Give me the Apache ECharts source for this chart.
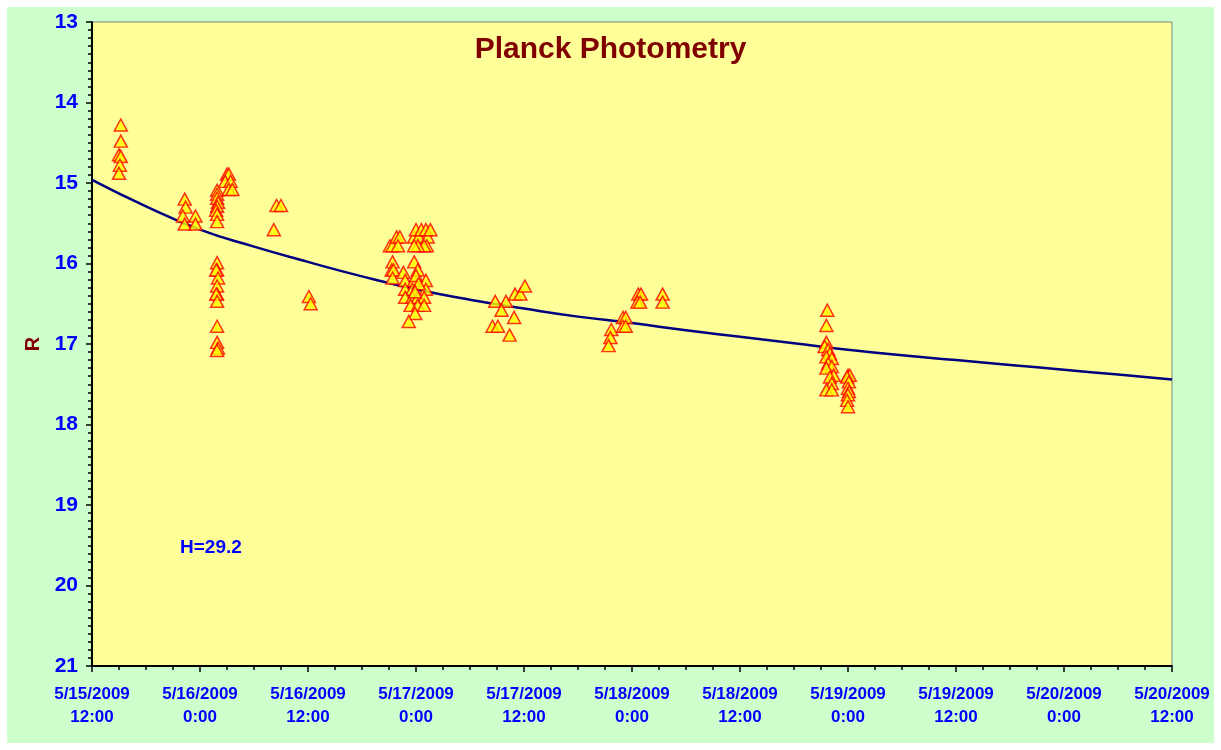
<!DOCTYPE html>
<html>
<head>
<meta charset="utf-8">
<script src="https://cdn.jsdelivr.net/npm/echarts@6/dist/echarts.min.js"></script>
<style>
  html, body { margin: 0; padding: 0; background: #ffffff; }
  #chart { position: absolute; left: 7px; top: 7px; width: 1207px; height: 736px; }
</style>
</head>
<body>
<div id="chart"></div>
<script>
// Hours since 5/15/2009 12:00
const xTickLabels = [
  '5/15/2009\n12:00', '5/16/2009\n0:00', '5/16/2009\n12:00', '5/17/2009\n0:00',
  '5/17/2009\n12:00', '5/18/2009\n0:00', '5/18/2009\n12:00', '5/19/2009\n0:00',
  '5/19/2009\n12:00', '5/20/2009\n0:00', '5/20/2009\n12:00'
];

// Observations: [hours since 5/15/2009 12:00, R magnitude]
const obsGroupA = [[3.2,14.28],[3.2,14.48],[3.0,14.65],[3.2,14.67],[3.1,14.78],[3.0,14.88]];
const obsGroupB = [[10.3,15.20],[10.4,15.30],[10.1,15.41],[10.3,15.51],[11.5,15.41],[11.5,15.51]];
const obsGroupC = [
  [13.9,15.09],[13.9,15.14],[13.9,15.19],[14.0,15.24],[13.9,15.29],[13.8,15.34],[13.9,15.39],[13.9,15.48],
  [13.9,15.99],[13.9,16.08],[13.8,16.08],[14.0,16.18],[13.9,16.28],[13.9,16.38],[13.8,16.38],[13.9,16.47],
  [13.9,16.78],[13.9,16.98],[14.0,17.05],[13.9,17.08],
  [15.0,14.89],[15.2,14.89],[14.8,14.98],[15.4,14.98],[15.2,15.08],[15.6,15.08]
];
const obsGroupD = [[20.5,15.28],[21.0,15.28],[20.2,15.58],[24.1,16.41],[24.3,16.50]];
const obsGroupF = [
  [33.1,15.78],[33.4,15.78],[33.85,15.67],[34.2,15.67],[34.0,15.78],[33.4,15.98],[33.3,16.08],[33.5,16.08],[33.4,16.18],
  [35.8,15.67],[36.0,15.58],[36.3,15.67],[36.6,15.58],[37.1,15.58],[37.3,15.67],[37.2,15.78],[36.9,15.78],
  [36.2,15.78],[35.8,15.78],[37.6,15.58],
  [35.8,15.98],[34.6,16.11],[36.2,16.08],[34.8,16.21],[35.8,16.21],[37.1,16.21],[34.8,16.32],[35.6,16.32],
  [37.1,16.32],[34.8,16.42],[35.6,16.42],[36.2,16.42],[36.9,16.42],[35.4,16.52],[36.2,16.52],[36.9,16.52],
  [35.9,16.62],[35.2,16.72],[36.0,16.15],[36.3,16.25],[35.9,16.35]
];
const obsGroupG = [[44.8,16.47],[46.0,16.47],[45.5,16.58],[47.0,16.38],[47.6,16.38],[48.1,16.28],[46.9,16.67],[44.5,16.78],[45.1,16.78],[46.4,16.89]];
const obsGroupH = [[57.7,16.82],[57.6,16.92],[57.4,17.02],[59.0,16.67],[59.3,16.67],[59.0,16.78],[59.3,16.78],
  [60.7,16.38],[61.0,16.38],[60.6,16.48],[60.9,16.48],[63.4,16.38],[63.4,16.48]];
const obsGroupI = [
  [81.7,16.58],[81.6,16.77],[81.6,16.98],[81.4,17.03],[81.8,17.07],[82.0,17.12],[81.6,17.16],[82.2,17.18],
  [81.8,17.24],[82.2,17.28],[81.6,17.30],[82.4,17.39],[82.0,17.41],[82.2,17.49],[81.6,17.57],[82.2,17.57],
  [84.0,17.39],[84.2,17.39],[83.9,17.41],[84.1,17.47],[84.0,17.55],[84.1,17.59],[84.0,17.63],[83.9,17.70],[84.0,17.78]
];

// Model curve
const modelHours = [0, 6, 12, 18, 24, 30, 36, 42, 48, 54, 60, 66, 72, 78, 84, 90, 96, 102, 108, 114, 120];
const modelMag   = [14.96, 15.29, 15.58, 15.79, 15.98, 16.16, 16.32, 16.45, 16.56, 16.66, 16.74, 16.83, 16.91, 16.99, 17.07, 17.14, 17.20, 17.26, 17.32, 17.38, 17.44];

const observations = [].concat(obsGroupA, obsGroupB, obsGroupC, obsGroupD, obsGroupF, obsGroupG, obsGroupH, obsGroupI);
const modelData = modelHours.map((h, i) => [h, modelMag[i]]);

const FONT = 'Arial, "Liberation Sans", sans-serif';
const chart = echarts.init(document.getElementById('chart'));
chart.setOption({
  backgroundColor: '#CCFFCC',
  animation: false,
  title: {
    text: 'Planck Photometry',
    left: 'center',
    top: 23,
    textStyle: { color: '#800000', fontSize: 30, fontWeight: 'bold', fontFamily: FONT }
  },
  grid: {
    left: 85, top: 15, width: 1080, height: 644,
    show: true, backgroundColor: '#FFFF99', borderColor: '#808080', borderWidth: 1
  },
  xAxis: {
    type: 'value', min: 0, max: 120, interval: 12,
    axisLine: { show: true, onZero: false, lineStyle: { color: '#000000', width: 2 } },
    axisTick: { show: true, length: 6, lineStyle: { color: '#000000', width: 1.5 } },
    minorTick: { show: true, splitNumber: 4, length: 4, lineStyle: { color: '#000000', width: 1.5 } },
    splitLine: { show: false },
    axisLabel: {
      margin: 17, color: '#0000FF', fontWeight: 'bold', fontSize: 17, fontFamily: FONT, lineHeight: 23,
      formatter: function (v) { return xTickLabels[Math.round(v / 12)]; }
    }
  },
  yAxis: {
    type: 'value', inverse: true, min: 13, max: 21, interval: 1,
    name: 'R', nameLocation: 'middle', nameGap: 48, nameRotate: 90,
    nameTextStyle: { color: '#800000', fontWeight: 'bold', fontSize: 20, fontFamily: FONT },
    axisLine: { show: true, onZero: false, lineStyle: { color: '#000000', width: 2 } },
    axisTick: { show: true, length: 6, lineStyle: { color: '#000000', width: 1.5 } },
    minorTick: { show: true, splitNumber: 10, length: 4, lineStyle: { color: '#000000', width: 1.5 } },
    splitLine: { show: false },
    axisLabel: { margin: 14, color: '#0000FF', fontWeight: 'bold', fontSize: 21, fontFamily: FONT }
  },
  graphic: [{
    type: 'text', left: 173, top: 531,
    style: { text: 'H=29.2', fill: '#0000FF', font: 'bold 19px ' + FONT }
  }],
  series: [
    {
      type: 'line', data: modelData, showSymbol: false, smooth: true,
      lineStyle: { color: '#000080', width: 2.5 }, z: 2
    },
    {
      type: 'scatter', data: observations, symbol: 'triangle', symbolSize: [13, 12],
      itemStyle: { color: '#FFFF00', borderColor: '#FF0000', borderWidth: 1.5 }, z: 3
    }
  ]
});
</script>
</body>
</html>
